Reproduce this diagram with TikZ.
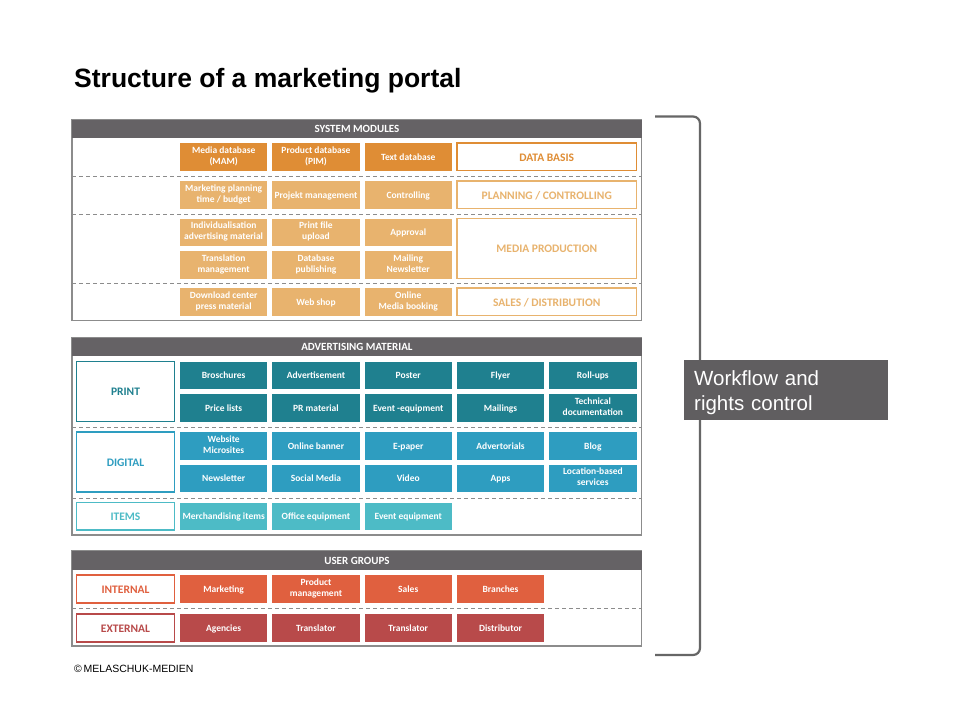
\documentclass[tikz,border=0pt]{standalone}
\usepackage{fontspec}
\setmainfont{Liberation Sans}
\newfontfamily\boxfont{Carlito}
\usetikzlibrary{positioning}
\definecolor{hdrgray}{HTML}{656265}
\definecolor{framegray}{HTML}{8C8C8C}
\definecolor{bracegray}{HTML}{666666}
\definecolor{wfgray}{HTML}{605E60}
\definecolor{orgdark}{HTML}{DF8D35}
\definecolor{orglight}{HTML}{E8B36E}
\definecolor{tealdark}{HTML}{1F808F}
\definecolor{tealmid}{HTML}{2E9DC0}
\definecolor{teallight}{HTML}{4DBBC6}
\definecolor{redlight}{HTML}{E0603F}
\definecolor{reddark}{HTML}{B84A4A}
\newcommand\modstrut{\rule[-2.5pt]{0pt}{11.5pt}}
\newcommand\catstrut{\rule[-1pt]{0pt}{10.5pt}}
\tikzset{
  frame/.style     = {draw=framegray, line width=1.2pt, minimum width=569.5pt,
                      inner sep=0pt, outer sep=0pt, anchor=north west},
  header/.style    = {fill=hdrgray, text=white, minimum width=569.5pt,
                      minimum height=18.5pt, inner sep=0pt, anchor=north west,
                      font=\boxfont\bfseries\fontsize{11}{13}\selectfont},
  separator/.style = {draw=framegray, line width=1pt, dash pattern=on 4pt off 3pt},
  module/.style    = {minimum width=87.3pt, minimum height=27.5pt, inner sep=0pt,
                      outer sep=0pt, align=center, text=white,
                      font=\boxfont\bfseries\fontsize{9.5}{11}\selectfont,
                      execute at begin node=\modstrut, execute at end node=\modstrut},
  basemod/.style   = {module, fill=orgdark},
  sysmod/.style    = {module, fill=orglight},
  printmod/.style  = {module, fill=tealdark},
  digimod/.style   = {module, fill=tealmid},
  itemmod/.style   = {module, fill=teallight},
  intmod/.style    = {module, fill=redlight},
  extmod/.style    = {module, fill=reddark},
  category/.style  = {fill=white, line width=1.2pt, inner sep=0pt, outer sep=0pt,
                      anchor=north west, align=center,
                      font=\boxfont\bfseries\fontsize{11.5}{13}\selectfont,
                      execute at begin node=\catstrut},
  bracket/.style   = {draw=bracegray, line width=2.2pt, rounded corners=7pt},
  wfbox/.style     = {fill=wfgray, text=white, text width=184pt, inner xsep=10pt,
                      minimum height=60pt, align=left, anchor=north west,
                      font=\fontsize{20.5}{25}\selectfont,
                      execute at begin node={\rule{0pt}{20pt}}}
}
\begin{document}
\begin{tikzpicture}[x=1pt, y=-1pt]
  \useasboundingbox [fill=white] (0,0) rectangle (960,720);

  \node [anchor=base west, inner sep=0pt, font=\bfseries\fontsize{26.5}{30}\selectfont]
    (title) at (74,87) {Structure of a marketing portal};

  % system modules
  \node [frame, minimum height=201pt] (sm) at (72,119.5) {};
  \node [header] (smh) at (sm.north west) {SYSTEM MODULES};
  \draw [separator] (sm.west |- 0,176.5) -- (sm.east |- 0,176.5);
  \draw [separator] (sm.west |- 0,214) -- (sm.east |- 0,214);
  \draw [separator] (sm.west |- 0,283.5) -- (sm.east |- 0,283.5);

  \node [basemod, anchor=north west] (db1) at (180,143) {Media database\\(MAM)};
  \node [basemod, right=5pt of db1] (db2) {Product database\\(PIM)};
  \node [basemod, right=5pt of db2] (db3) {Text database};
  \node [category, draw=orgdark, text=orgdark, minimum width=179.5pt, minimum height=27.5pt]
    (dbl) at (457,143) {DATA BASIS};

  \node [sysmod, anchor=north west] (pc1) at (180,181) {Marketing planning\\time / budget};
  \node [sysmod, right=5pt of pc1] (pc2) {Projekt management};
  \node [sysmod, right=5pt of pc2] (pc3) {Controlling};
  \node [category, draw=orglight, text=orglight, minimum width=179.5pt, minimum height=27.5pt]
    (pcl) at (457,181) {PLANNING / CONTROLLING};

  \node [sysmod, anchor=north west] (mp1) at (180,218.5) {Individualisation\\advertising material};
  \node [sysmod, right=5pt of mp1] (mp2) {Print file\\upload};
  \node [sysmod, right=5pt of mp2] (mp3) {Approval};
  \node [sysmod, below=5pt of mp1] (mp4) {Translation\\management};
  \node [sysmod, right=5pt of mp4] (mp5) {Database\\publishing};
  \node [sysmod, right=5pt of mp5] (mp6) {Mailing\\Newsletter};
  \node [category, draw=orglight, text=orglight, minimum width=179.5pt, minimum height=60pt]
    (mpl) at (457,218.5) {MEDIA PRODUCTION};

  \node [sysmod, anchor=north west] (sd1) at (180,288) {Download center\\press material};
  \node [sysmod, right=5pt of sd1] (sd2) {Web shop};
  \node [sysmod, right=5pt of sd2] (sd3) {Online\\Media booking};
  \node [category, draw=orglight, text=orglight, minimum width=179.5pt, minimum height=27.5pt]
    (sdl) at (457,288) {SALES / DISTRIBUTION};

  % advertising material
  \node [frame, minimum height=197.5pt] (am) at (72,337.5) {};
  \node [header] (amh) at (am.north west) {ADVERTISING MATERIAL};
  \draw [separator] (am.west |- 0,427.5) -- (am.east |- 0,427.5);
  \draw [separator] (am.west |- 0,498) -- (am.east |- 0,498);

  \node [category, draw=tealdark, text=tealdark, minimum width=98pt, minimum height=60pt]
    (prl) at (76.5,361.5) {PRINT};
  \node [printmod, anchor=north west] (pr1) at (180,361.5) {Broschures};
  \node [printmod, right=5pt of pr1] (pr2) {Advertisement};
  \node [printmod, right=5pt of pr2] (pr3) {Poster};
  \node [printmod, right=5pt of pr3] (pr4) {Flyer};
  \node [printmod, right=5pt of pr4] (pr5) {Roll-ups};
  \node [printmod, below=5pt of pr1] (pr6) {Price lists};
  \node [printmod, right=5pt of pr6] (pr7) {PR material};
  \node [printmod, right=5pt of pr7] (pr8) {Event -equipment};
  \node [printmod, right=5pt of pr8] (pr9) {Mailings};
  \node [printmod, right=5pt of pr9] (pr10) {Technical\\documentation};

  \node [category, draw=tealmid, text=tealmid, minimum width=98pt, minimum height=60pt]
    (dgl) at (76.5,432) {DIGITAL};
  \node [digimod, anchor=north west] (dg1) at (180,432) {Website\\Microsites};
  \node [digimod, right=5pt of dg1] (dg2) {Online banner};
  \node [digimod, right=5pt of dg2] (dg3) {E-paper};
  \node [digimod, right=5pt of dg3] (dg4) {Advertorials};
  \node [digimod, right=5pt of dg4] (dg5) {Blog};
  \node [digimod, below=5pt of dg1] (dg6) {Newsletter};
  \node [digimod, right=5pt of dg6] (dg7) {Social Media};
  \node [digimod, right=5pt of dg7] (dg8) {Video};
  \node [digimod, right=5pt of dg8] (dg9) {Apps};
  \node [digimod, right=5pt of dg9] (dg10) {Location-based\\services};

  \node [category, draw=teallight, text=teallight, minimum width=98pt, minimum height=27.5pt]
    (itl) at (76.5,502.5) {ITEMS};
  \node [itemmod, anchor=north west] (it1) at (180,502.5) {Merchandising items};
  \node [itemmod, right=5pt of it1] (it2) {Office equipment};
  \node [itemmod, right=5pt of it2] (it3) {Event equipment};

  % user groups
  \node [frame, minimum height=95pt] (ug) at (72,551) {};
  \node [header] (ugh) at (ug.north west) {USER GROUPS};
  \draw [separator] (ug.west |- 0,608.5) -- (ug.east |- 0,608.5);

  \node [category, draw=redlight, text=redlight, minimum width=98pt, minimum height=28pt]
    (inl) at (76.5,575) {INTERNAL};
  \node [intmod, anchor=north west, minimum height=28pt] (in1) at (180,575) {Marketing};
  \node [intmod, right=5pt of in1, minimum height=28pt] (in2) {Product\\management};
  \node [intmod, right=5pt of in2, minimum height=28pt] (in3) {Sales};
  \node [intmod, right=5pt of in3, minimum height=28pt] (in4) {Branches};

  \node [category, draw=reddark, text=reddark, minimum width=98pt, minimum height=28pt]
    (exl) at (76.5,614) {EXTERNAL};
  \node [extmod, anchor=north west, minimum height=28pt] (ex1) at (180,614) {Agencies};
  \node [extmod, right=5pt of ex1, minimum height=28pt] (ex2) {Translator};
  \node [extmod, right=5pt of ex2, minimum height=28pt] (ex3) {Translator};
  \node [extmod, right=5pt of ex3, minimum height=28pt] (ex4) {Distributor};

  \node [anchor=base west, inner sep=0pt, font=\fontsize{10.5}{12}\selectfont]
    (copy) at (74,672) {\textcopyright\,MELASCHUK-MEDIEN};

  % workflow bracket
  \draw [bracket] (655,116.5) -- (700,116.5) -- (700,655) -- (655,655);
  \node [wfbox] (wf) at (684,360) {Workflow and\\rights control};
\end{tikzpicture}
\end{document}
